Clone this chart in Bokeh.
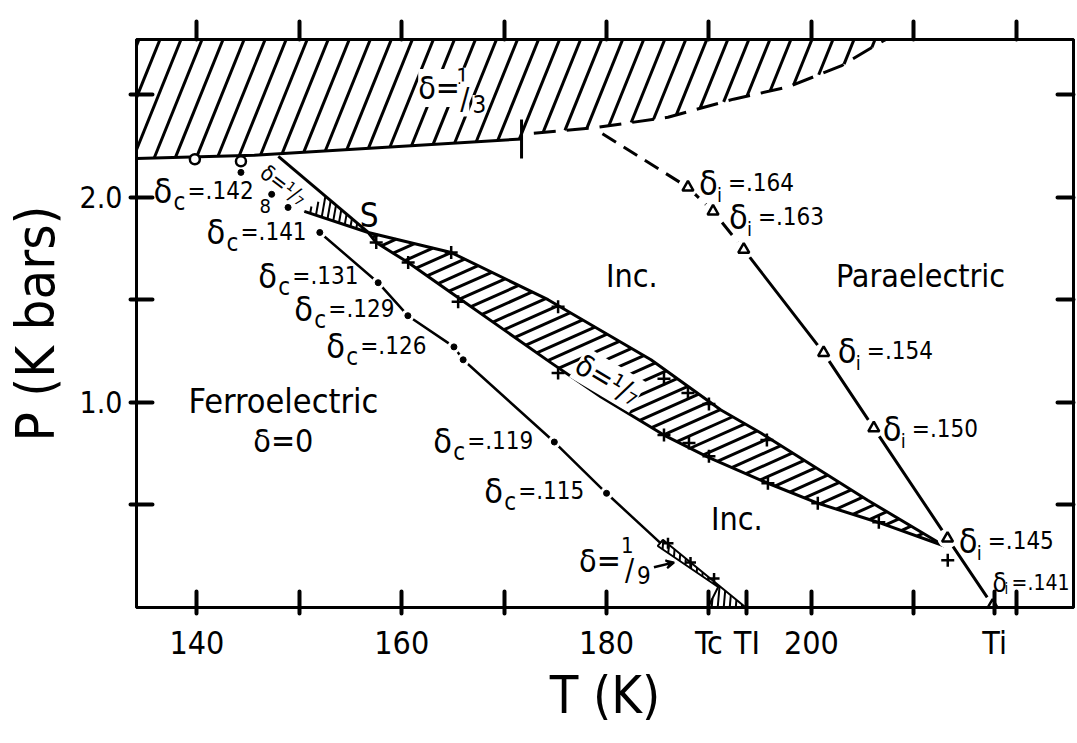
import math
from bokeh.plotting import figure
from bokeh.models import LinearAxis, FixedTicker, Label, Arrow, VeeHead
from bokeh.core.properties import value
from bokeh.embed import file_html
from bokeh.resources import INLINE

FONT = "DejaVu Sans Condensed"
INK = "black"

# ---- axes ---------------------------------------------------------------
T_min, T_max = 134.1, 225.6
P_min, P_max = 0.0, 2.77
x_ticks = [140, 150, 160, 170, 180, 190, 193.7, 200, 210, 217.9, 220]
x_tick_text = ["140", "", "160", "", "180", "Tc", "TI", "200", "", "Ti", ""]
frame_x_ticks = [140, 150, 160, 170, 180, 190, 200, 210, 220]
y_ticks = [0.5, 1.0, 1.5, 2.0, 2.5]
y_tick_text = ["", "1.0", "", "2.0", ""]

# ---- phase boundaries -----------------------------------------------------
# lower edge of the delta=1/3 phase: measured (solid) and extrapolated (dashed)
third_solid_T = [134.1, 145.6, 171.7]
third_solid_P = [2.19, 2.205, 2.285]
third_dash_T = [172.9, 179.2, 186.0, 192.4, 197.7, 202.9, 206.8, 207.3]
third_dash_P = [2.313, 2.342, 2.391, 2.479, 2.538, 2.641, 2.758, 2.77]
third_open_T = [139.8, 144.3]
third_open_P = [2.186, 2.176]
third_bar_T = [171.7]
third_bar_lo = [2.19]
third_bar_hi = [2.38]

# delta=1/7 sliver that closes at the point S
sliver_T = [147.95, 156.73]
sliver_P = [2.2, 1.829]
wedge_T = [150.49, 152.63, 156.73]
wedge_P = [1.932, 2.005, 1.829]

# delta=1/7 band from S down to the delta_i=.145 point
band_upper_T = [156.73, 164.83, 174.29, 184.34, 191.17, 195.07, 205.5, 213.0]
band_upper_P = [1.829, 1.731, 1.501, 1.208, 0.963, 0.851, 0.523, 0.30]
band_lower_T = [156.73, 157.5, 160.63, 164.83, 174.59, 179.47, 185.6, 189.9,
                195.76, 200.6, 206.5, 213.0]
band_lower_P = [1.829, 1.78, 1.682, 1.535, 1.193, 1.027, 0.841, 0.733,
                0.606, 0.509, 0.416, 0.30]
band_cross_T = [157.51, 164.83, 175.27, 185.61, 187.95, 190.0, 195.66,
                160.63, 165.51, 175.27, 185.61, 188.05, 190.0, 195.76,
                200.63, 206.59, 213.32]
band_cross_P = [1.780, 1.731, 1.467, 1.115, 1.046, 0.993, 0.817,
                1.682, 1.491, 1.144, 0.841, 0.802, 0.738, 0.606,
                0.509, 0.416, 0.230]

# Tc line: ferroelectric -> incommensurate (delta_c)
dc_T = [144.3, 147.3, 148.9, 152.0, 157.7, 160.6, 165.1, 166.0, 174.9, 180.0]
dc_P = [2.122, 2.015, 1.951, 1.829, 1.584, 1.423, 1.271, 1.208, 0.807, 0.557]
tc_tail_T = [180.0, 185.3]
tc_tail_P = [0.557, 0.313]
dc_text = [".142", ".141", ".131", ".129", ".126", ".119", ".115"]

# delta=1/9 sliver reaching the axis between Tc and TI
ninth_T = [185.0, 185.5, 193.6, 189.9, 190.9]
ninth_P = [0.30, 0.33, 0.0, 0.0, 0.10]
ninth_cross_T = [186.0, 188.2, 190.5]
ninth_cross_P = [0.313, 0.22, 0.142]

# Ti line: incommensurate -> paraelectric (delta_i)
di_T = [187.95, 190.4, 193.4, 201.2, 206.1, 213.3, 217.7]
di_P = [2.049, 1.932, 1.746, 1.242, 0.875, 0.337, 0.01]
di_top_T = [179.6]
di_top_P = [2.31]
di_text = [".164", ".163", ".154", ".150", ".145", ".141"]

# ---- figure -----------------------------------------------------------------
W, H = 1077, 743
BL, BR, BT, BB = 136, 4, 39, 136
p = figure(width=W, height=H, x_range=(T_min, T_max), y_range=(P_min, P_max),
           output_backend="svg", toolbar_location=None,
           min_border_left=BL, min_border_right=BR, min_border_top=BT,
           min_border_bottom=BB, x_axis_label="T (K)", y_axis_label="P (K bars)")
p.background_fill_color = "white"
p.border_fill_color = "white"
p.grid.visible = False
p.outline_line_color = INK
p.outline_line_width = 3

def style_axis(ax, ticks, texts, t_in, t_out):
    ax.ticker = FixedTicker(ticks=ticks)
    ax.major_label_overrides = {t: s for t, s in zip(ticks, texts)}
    ax.major_tick_in = t_in
    ax.major_tick_out = t_out
    ax.major_tick_line_width = 4
    ax.major_tick_line_color = INK
    ax.major_tick_line_cap = "round"
    ax.minor_tick_line_color = None
    ax.axis_line_width = 3
    ax.axis_line_color = INK
    ax.major_label_text_font = FONT
    ax.major_label_text_color = INK
    ax.axis_label_text_font = FONT
    ax.axis_label_text_font_style = "normal"
    ax.axis_label_text_color = INK

xa = p.xaxis[0]
style_axis(xa, x_ticks, x_tick_text, 16, 6)
xa.major_label_text_font_size = "32px"
xa.major_label_standoff = 10
xa.axis_label_text_font_size = "52px"
xa.axis_label_standoff = 0

ya = p.yaxis[0]
style_axis(ya, y_ticks, y_tick_text, 16, 6)
ya.major_label_text_font_size = "30px"
ya.major_label_standoff = 8
ya.major_label_orientation = "horizontal"
ya.axis_label_text_font_size = "54px"
ya.axis_label_standoff = 10

top = LinearAxis()
style_axis(top, frame_x_ticks, [""] * len(frame_x_ticks), 0, 18)
top.major_label_text_font_size = "0px"
top.major_label_standoff = 0
p.add_layout(top, "above")

right = LinearAxis()
style_axis(right, y_ticks, [""] * len(y_ticks), 16, 0)
right.major_label_text_font_size = "0px"
right.major_label_standoff = 0
p.add_layout(right, "right")

# ---- slanted hatching ---------------------------------------------------------
# pixels per data unit inside the frame, so that hatch angles hold on screen
KX = (W - BL - BR) / (T_max - T_min)
KY = (H - BT - BB) / (P_max - P_min)

def hatch(xs, ys, angle_deg, spacing):
    """Parallel strokes at a screen angle, clipped to the polygon (even-odd)."""
    th = math.radians(angle_deg)
    dx, dy = math.cos(th), math.sin(th)
    nx, ny = -dy, dx
    pts = [(x * KX, y * KY) for x, y in zip(xs, ys)]
    proj = [nx * u + ny * v for u, v in pts]
    m = len(pts)
    seg_x, seg_y = [], []
    k = math.floor(min(proj) / spacing) * spacing + spacing / 2
    while k < max(proj):
        ts = []
        for i in range(m):
            j = (i + 1) % m
            s1, s2 = proj[i] - k, proj[j] - k
            if (s1 < 0) != (s2 < 0):
                f = s1 / (s1 - s2)
                u = pts[i][0] + f * (pts[j][0] - pts[i][0])
                v = pts[i][1] + f * (pts[j][1] - pts[i][1])
                ts.append(dx * u + dy * v)
        ts.sort()
        for a, b in zip(ts[0::2], ts[1::2]):
            seg_x.append([(k * nx + a * dx) / KX, (k * nx + b * dx) / KX])
            seg_y.append([(k * ny + a * dy) / KY, (k * ny + b * dy) / KY])
        k += spacing
    return seg_x, seg_y

third_poly_T = third_solid_T + third_dash_T + [third_solid_T[0]]
third_poly_P = third_solid_P + third_dash_P + [P_max]
band_poly_T = band_upper_T + band_lower_T[::-1]
band_poly_P = band_upper_P + band_lower_P[::-1]

for poly_T, poly_P, ang, gap, lw in [(third_poly_T, third_poly_P, 68, 19.5, 3),
                                     (band_poly_T, band_poly_P, 24, 11.5, 3),
                                     (wedge_T, wedge_P, 80, 6, 2),
                                     (ninth_T, ninth_P, 85, 6, 2)]:
    hx, hy = hatch(poly_T, poly_P, ang, gap)
    p.multi_line(hx, hy, line_color=INK, line_width=lw)

p.patch(ninth_T, ninth_P, fill_color=None, line_color=INK, line_width=2)

# boundary lines
p.line(third_solid_T, third_solid_P, line_color=INK, line_width=3)
p.line(third_dash_T, third_dash_P, line_color=INK, line_width=3, line_dash="22 11")
p.segment(third_bar_T, third_bar_lo, third_bar_T, third_bar_hi, line_color=INK, line_width=3)
p.line(sliver_T, sliver_P, line_color=INK, line_width=3)
p.line([wedge_T[0], wedge_T[2]], [wedge_P[0], wedge_P[2]], line_color=INK, line_width=3)
p.line(band_upper_T, band_upper_P, line_color=INK, line_width=3)
p.line(band_lower_T, band_lower_P, line_color=INK, line_width=3)
p.line(dc_T[3:] + tc_tail_T[1:], dc_P[3:] + tc_tail_P[1:], line_color=INK, line_width=2.5)
p.line(di_top_T + di_T[:3], di_top_P + di_P[:3], line_color=INK, line_width=3,
       line_dash="16 9")
p.line(di_T[2:], di_P[2:], line_color=INK, line_width=3)
p.line([band_upper_T[-1], di_T[5]], [band_upper_P[-1], di_P[5]], line_color=INK, line_width=3)

# gaps around the measured points, then the markers
p.scatter(dc_T[3:], dc_P[3:], size=13, marker="circle", fill_color="white", line_color=None)
p.scatter(di_T, di_P, size=20, marker="circle", fill_color="white", line_color=None)
p.scatter(dc_T, dc_P, size=6, marker="circle", fill_color=INK, line_color=INK)
p.scatter(third_open_T, third_open_P, size=10, marker="circle", fill_color="white",
          line_color=INK, line_width=2.5)
p.scatter(di_T, di_P, size=11, marker="triangle", fill_color="white",
          line_color=INK, line_width=2.5)
p.scatter(band_cross_T, band_cross_P, size=13, marker="cross", line_color=INK, line_width=2.5)
p.scatter(ninth_cross_T, ninth_cross_P, size=11, marker="cross", line_color=INK, line_width=2.5)

p.add_layout(Arrow(end=VeeHead(size=8, line_color=INK, fill_color=INK, line_width=2),
                   x_start=184.63, y_start=0.196, x_end=186.6, y_end=0.22,
                   line_color=INK, line_width=2.5))

# ---- text -----------------------------------------------------------------
LIFT = -11   # pull alphabetic baselines up onto the intended line

def txt(x, y, s, size, dx=0, dy=0, angle=0.0, align="left", baseline="alphabetic"):
    shift = LIFT if baseline == "alphabetic" else 0
    p.text(x=[x], y=[y], text=[s], x_offset=dx, y_offset=dy + shift, angle=angle,
           text_font=value(FONT), text_font_size=f"{size}px", text_align=align,
           text_baseline=baseline, text_color=INK)

def boxed(x, y, s, size, angle=0.0, align="left", baseline="alphabetic"):
    p.add_layout(Label(x=x, y=y, text=s, angle=angle, text_font=FONT,
                       text_font_size=f"{size}px", text_align=align,
                       text_baseline=baseline, text_color=INK,
                       background_fill_color="white"))

def delta(x, y, sub, rest, sub_dx, rest_dx, big=34, small=24, mid=24, sub_dy=11):
    txt(x, y, "\u03b4", big)
    txt(x, y, sub, small, dx=sub_dx, dy=sub_dy)
    txt(x, y, "=" + rest, mid, dx=rest_dx)

dc_pos = [(135.76, 1.976), (140.93, 1.78), (146.0, 1.565), (149.51, 1.403),
          (152.63, 1.222), (163.07, 0.758), (168.05, 0.513)]
for (x, y), s in zip(dc_pos, dc_text):
    delta(x, y, "c", s, 20, 34)
txt(146.1, 1.902, "8", 20)

di_pos = [(189.02, 2.015), (191.95, 1.851), (202.59, 1.198), (206.98, 0.817),
          (214.39, 0.269)]
for (x, y), s in zip(di_pos, di_text[:5]):
    delta(x, y, "i", s, 18, 29, small=20, sub_dy=12)
delta(217.7, 0.068, "i", di_text[5], 12, 19, big=26, small=15, mid=21, sub_dy=6)

# phase names
txt(139.17, 0.954, "Ferroelectric", 34)
txt(145.51, 0.758, "\u03b4=0", 32)
txt(179.95, 1.565, "Inc.", 32)
txt(190.2, 0.377, "Inc.", 32)
txt(202.4, 1.565, "Paraelectric", 32)
txt(155.9, 1.858, "S", 33)

# commensurate fractions
boxed(161.61, 2.534, "\u03b4=", 32)
boxed(165.32, 2.593, "1", 22)
boxed(166.9, 2.456, "3", 24)
boxed(165.71, 2.48, "/", 30)
boxed(180.15, 1.11, "\u03b4=\u00b9/\u2087", 30, angle=-0.54, align="center", baseline="middle")
txt(148.44, 2.059, "\u03b4=\u00b9/\u2087", 22, angle=-0.65, align="center", baseline="middle")
txt(177.32, 0.171, "\u03b4=", 32)
txt(181.41, 0.249, "1", 22)
txt(181.8, 0.132, "/", 30)
txt(182.97, 0.103, "9", 24)

open("out.html", "w").write(file_html(p, INLINE))
